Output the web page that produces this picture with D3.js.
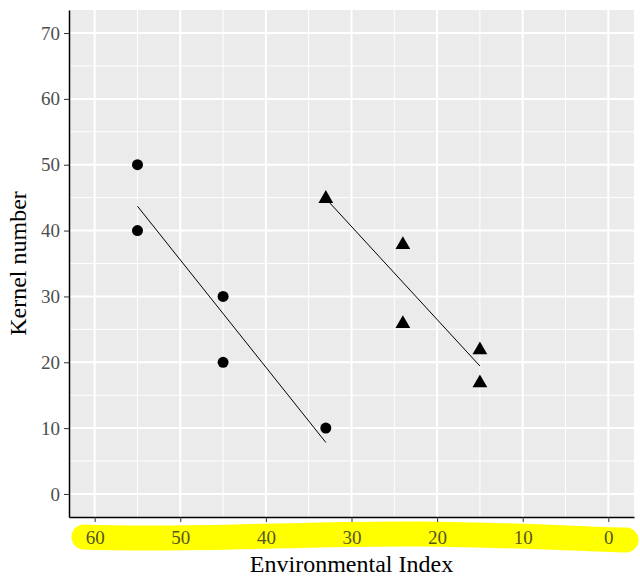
<!DOCTYPE html>
<html>
<head>
<meta charset="utf-8">
<script src="https://cdn.jsdelivr.net/npm/d3@7"></script>
<style>
  body { margin: 0; background: #fff; }
  text { font-family: "Liberation Serif", "Times New Roman", serif; }
</style>
</head>
<body>
<svg id="chart" width="640" height="584"></svg>
<script>
// data
var circleX = [55, 55, 45, 45, 33];
var circleY = [50, 40, 30, 20, 10];
var triangleX = [33, 24, 24, 15, 15];
var triangleY = [45, 38, 26, 22, 17];
var xTicks = [60, 50, 40, 30, 20, 10, 0];
var yTicks = [0, 10, 20, 30, 40, 50, 60, 70];

var margin = {top: 10, right: 6, bottom: 67, left: 69};
var svg = d3.select("#chart");
var W = 640, H = 584;
var pw = W - margin.left - margin.right;
var ph = H - margin.top - margin.bottom;

var x = d3.scaleLinear().domain([63, -3]).range([0, pw]);
var y = d3.scaleLinear().domain([-3.5, 73.5]).range([ph, 0]);

// yellow highlighter under the x tick labels
svg.append("path")
    .attr("d", "M84,537 C200,541 300,533 420,534 C520,535 580,539 626,540")
    .attr("fill", "none")
    .attr("stroke", "#ffff00")
    .attr("stroke-width", 25)
    .attr("stroke-linecap", "round");

var g = svg.append("g")
    .attr("transform", "translate(" + margin.left + "," + margin.top + ")");

g.append("rect")
    .attr("width", pw)
    .attr("height", ph)
    .attr("fill", "#ebebeb");

// minor grid
var xMinor = d3.range(-0, 61, 5).filter(function(d){ return d % 10 != 0; });
var yMinor = d3.range(5, 71, 10);
g.selectAll(".xminor").data(xMinor).enter().append("line")
    .attr("x1", function(d){ return x(d); }).attr("x2", function(d){ return x(d); })
    .attr("y1", 0).attr("y2", ph)
    .attr("stroke", "#fff").attr("stroke-width", 1);
g.selectAll(".yminor").data(yMinor).enter().append("line")
    .attr("y1", function(d){ return y(d); }).attr("y2", function(d){ return y(d); })
    .attr("x1", 0).attr("x2", pw)
    .attr("stroke", "#fff").attr("stroke-width", 1);

// major grid
g.selectAll(".xmajor").data(xTicks).enter().append("line")
    .attr("x1", function(d){ return x(d); }).attr("x2", function(d){ return x(d); })
    .attr("y1", 0).attr("y2", ph)
    .attr("stroke", "#fff").attr("stroke-width", 2);
g.selectAll(".ymajor").data(yTicks).enter().append("line")
    .attr("y1", function(d){ return y(d); }).attr("y2", function(d){ return y(d); })
    .attr("x1", 0).attr("x2", pw)
    .attr("stroke", "#fff").attr("stroke-width", 2);

// fitted lines (least squares on each group)
function fit(xs, ys) {
    var mx = d3.mean(xs), my = d3.mean(ys);
    var sxy = d3.sum(xs, function(d, i){ return (d - mx) * (ys[i] - my); });
    var sxx = d3.sum(xs, function(d){ return (d - mx) * (d - mx); });
    var b = sxy / sxx;
    var x0 = d3.min(xs), x1 = d3.max(xs);
    return [[x0, my + b * (x0 - mx)], [x1, my + b * (x1 - mx)]];
}

var line = d3.line()
    .x(function(d){ return x(d[0]); })
    .y(function(d){ return y(d[1]); });

[fit(circleX, circleY), fit(triangleX, triangleY)].forEach(function(seg) {
    g.append("path")
        .attr("d", line(seg))
        .attr("stroke", "#000")
        .attr("stroke-width", 1)
        .attr("fill", "none");
});

// points
g.selectAll(".dot").data(circleX).enter().append("circle")
    .attr("cx", function(d){ return x(d); })
    .attr("cy", function(d, i){ return y(circleY[i]); })
    .attr("r", 5.5)
    .attr("fill", "#000");

var tri = d3.symbol().type(d3.symbolTriangle).size(95);
g.selectAll(".tri").data(triangleX).enter().append("path")
    .attr("d", tri)
    .attr("transform", function(d, i){ return "translate(" + x(d) + "," + (y(triangleY[i]) + 1) + ")"; })
    .attr("fill", "#000");

// axes
var xAxis = g.append("g")
    .attr("transform", "translate(0," + ph + ")")
    .call(d3.axisBottom(x).tickValues(xTicks).tickSize(5).tickPadding(9).tickSizeOuter(0));
var yAxis = g.append("g")
    .call(d3.axisLeft(y).tickValues(yTicks).tickSize(5).tickPadding(4).tickSizeOuter(0));

[xAxis, yAxis].forEach(function(a) {
    a.select(".domain").attr("stroke", "#000").attr("stroke-width", 1.5);
    a.selectAll(".tick line").attr("stroke", "#333");
    a.selectAll("text")
        .attr("fill", "#4d4d4d")
        .style("font-family", "'Liberation Serif', serif")
        .style("font-size", "19px");
});
xAxis.selectAll("text").attr("fill", "#555522");

// axis titles
svg.append("text")
    .attr("x", margin.left + pw / 2)
    .attr("y", 572)
    .attr("text-anchor", "middle")
    .style("font-size", "24px")
    .attr("fill", "#000")
    .text("Environmental Index");

svg.append("text")
    .attr("transform", "translate(26," + (margin.top + ph / 2) + ") rotate(-90)")
    .attr("text-anchor", "middle")
    .style("font-size", "24px")
    .attr("fill", "#000")
    .text("Kernel number");
</script>
</body>
</html>
